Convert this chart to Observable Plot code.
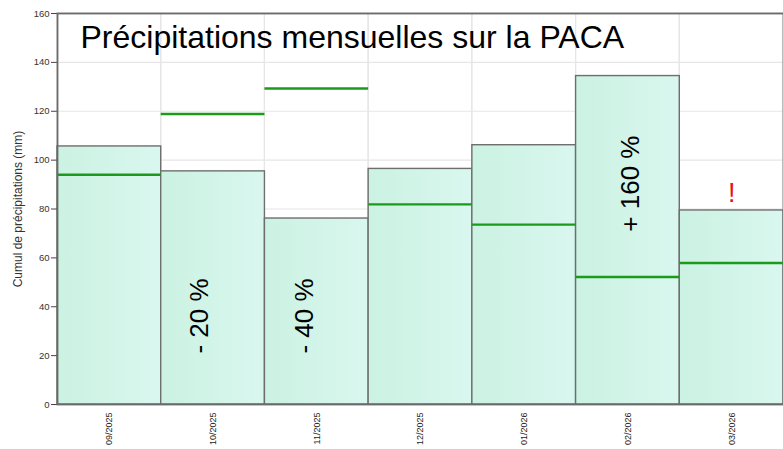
<!DOCTYPE html>
<html>
<head>
<meta charset="utf-8">
<script src="https://cdn.jsdelivr.net/npm/d3@7"></script>
<script src="https://cdn.jsdelivr.net/npm/@observablehq/plot@0.6"></script>
<style>
  html, body { margin: 0; padding: 0; background: #fff; }
  #chart { width: 783px; height: 449px; overflow: hidden; }
</style>
</head>
<body>
<div id="chart"></div>
<script>
const months = ["09/2025", "10/2025", "11/2025", "12/2025", "01/2026", "02/2026", "03/2026"];
const precip = [105.6, 95.4, 76.1, 96.4, 106.1, 134.4, 79.4];
const normals = [94.0, 118.9, 129.3, 81.9, 73.6, 52.2, 57.9];
const yTicks = [0, 20, 40, 60, 80, 100, 120, 140, 160];

const annotMonths = ["10/2025", "11/2025", "02/2026"];
const annotTexts = ["- 20 %", "- 40 %", "+ 160 %"];
const annotY = [36.2, 36.2, 90.4];
const annotDx = [-13, -12, 3];
const alertMonths = ["03/2026"];
const alertTexts = ["!"];
const alertY = [86.5];

const titleText = "Précipitations mensuelles sur la PACA";
const yLabel = "Cumul de précipitations (mm)";

const data = months.map((m, i) => ({month: m, value: precip[i], normal: normals[i]}));
const annots = annotMonths.map((m, i) => ({month: m, text: annotTexts[i], y: annotY[i], dx: annotDx[i]}));
const alerts = alertMonths.map((m, i) => ({month: m, text: alertTexts[i], y: alertY[i]}));

const chart = Plot.plot({
  width: 783,
  height: 449,
  marginLeft: 57,
  marginRight: 0,
  marginTop: 13,
  marginBottom: 45,
  style: {fontFamily: "Liberation Sans, Arial, sans-serif", background: "#fff"},
  x: {type: "band", domain: months, padding: 0, round: false, label: null},
  y: {domain: [0, 160], label: null},
  marks: [
    Plot.gridY(yTicks, {stroke: "#e6e6e6", strokeOpacity: 1, strokeWidth: 1.2}),
    Plot.barY(months, {x: d => d, y1: 0, y2: 160, fill: "none", stroke: "#e6e6e6", strokeWidth: 1.2}),
    Plot.barY(data, {x: "month", y: "value", fill: "url(#barGrad)", stroke: "#6e6e6e", strokeWidth: 1.4}),
    Plot.tickY(data, {x: "month", y: "normal", stroke: "#1b9a1b", strokeWidth: 2.4}),
    ...annots.map(a => Plot.text([a], {x: "month", y: "y", text: "text", rotate: -90, dx: a.dx, fontSize: 26, fill: "#000"})),
    Plot.text(alerts, {x: "month", y: "y", text: "text", fontSize: 27, fill: "#ee1111"}),
    Plot.text([titleText], {frameAnchor: "top-left", dx: 23, dy: 24, textAnchor: "start", lineAnchor: "middle", fontSize: 32, fill: "#000"}),
    Plot.axisY(yTicks, {tickSize: 6, tickPadding: 2, fontSize: 9.5, stroke: "#444", fill: "#333", label: yLabel, labelAnchor: "center", labelArrow: "none", labelOffset: 44}),
    Plot.axisX({tickRotate: -90, tickSize: 0, tickPadding: 8, fontSize: 9, fill: "#222", label: null}),
    Plot.frame({stroke: "#6a6a6a", strokeWidth: 1.8})
  ]
});

const ns = "http://www.w3.org/2000/svg";
const defs = document.createElementNS(ns, "defs");
defs.innerHTML = '<linearGradient id="barGrad" x1="0" y1="0" x2="1" y2="0">' +
  '<stop offset="0" stop-color="#cbf2e2"/><stop offset="1" stop-color="#d9f7ef"/></linearGradient>';
chart.insertBefore(defs, chart.firstChild);

chart.querySelectorAll("[aria-label='y-axis label'] text").forEach(t => t.setAttribute("font-size", "12"));

document.getElementById("chart").appendChild(chart);
</script>
</body>
</html>
